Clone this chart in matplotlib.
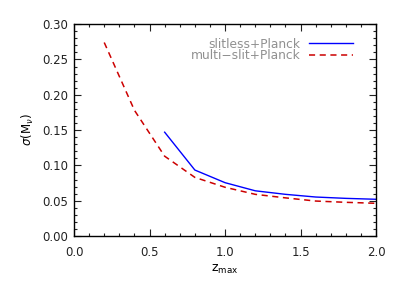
import matplotlib
matplotlib.use("Agg")
import matplotlib.pyplot as plt
from matplotlib.ticker import MultipleLocator

z_multi = [0.2, 0.4, 0.6, 0.8, 1.0, 1.2, 1.4, 1.6, 1.8, 2.0]
sig_multi = [0.274, 0.178, 0.113, 0.083, 0.069, 0.059, 0.054, 0.0495, 0.0477, 0.0463]
z_slit = [0.6, 0.8, 1.0, 1.2, 1.4, 1.6, 1.8, 2.0]
sig_slit = [0.147, 0.0934, 0.0755, 0.064, 0.059, 0.0552, 0.0533, 0.052]
labels = ["slitless+Planck", "multi\u2212slit+Planck"]

plt.rcParams['font.family'] = ['DejaVu Sans']
plt.rcParams['mathtext.fontset'] = 'dejavusans'

fig = plt.figure(figsize=(3.98, 2.84), dpi=100)
ax = fig.add_axes([0.186, 0.169, 0.759, 0.746])
ax.plot(z_slit, sig_slit, color='#0000ff', lw=1.0, label=labels[0])
ax.plot(z_multi, sig_multi, color='#cc0000', lw=1.1, ls=(0, (4, 3)), label=labels[1])
ax.set_xlim(0, 2.0)
ax.set_ylim(0, 0.30)
ax.xaxis.set_major_locator(MultipleLocator(0.5))
ax.xaxis.set_minor_locator(MultipleLocator(0.1))
ax.yaxis.set_major_locator(MultipleLocator(0.05))
ax.yaxis.set_minor_locator(MultipleLocator(0.01))
ax.xaxis.set_major_formatter(matplotlib.ticker.FormatStrFormatter('%.1f'))
ax.yaxis.set_major_formatter(matplotlib.ticker.FormatStrFormatter('%.2f'))
ax.tick_params(which='both', direction='in', top=True, right=True, labelsize=8.5, colors='#222222', width=0.8)
ax.tick_params(which='major', length=5, pad=4)
ax.tick_params(axis='x', which='major', pad=7)
ax.tick_params(which='minor', length=2.5)
for s in ax.spines.values():
    s.set_linewidth(1.0)
ax.set_xlabel(r'$\mathrm{z_{max}}$', fontsize=9, labelpad=3)
ax.set_ylabel(r'$\sigma$(M$_\nu$)', fontsize=8.5, labelpad=5)
leg = ax.legend(loc='upper right', frameon=False, markerfirst=False, fontsize=8.8,
                handlelength=3.6, labelspacing=-0.1, borderaxespad=0.0, handletextpad=0.7,
                bbox_to_anchor=(0.94, 0.96))
for t in leg.get_texts():
    t.set_color('#909090')
fig.savefig('out.png', dpi=100)
